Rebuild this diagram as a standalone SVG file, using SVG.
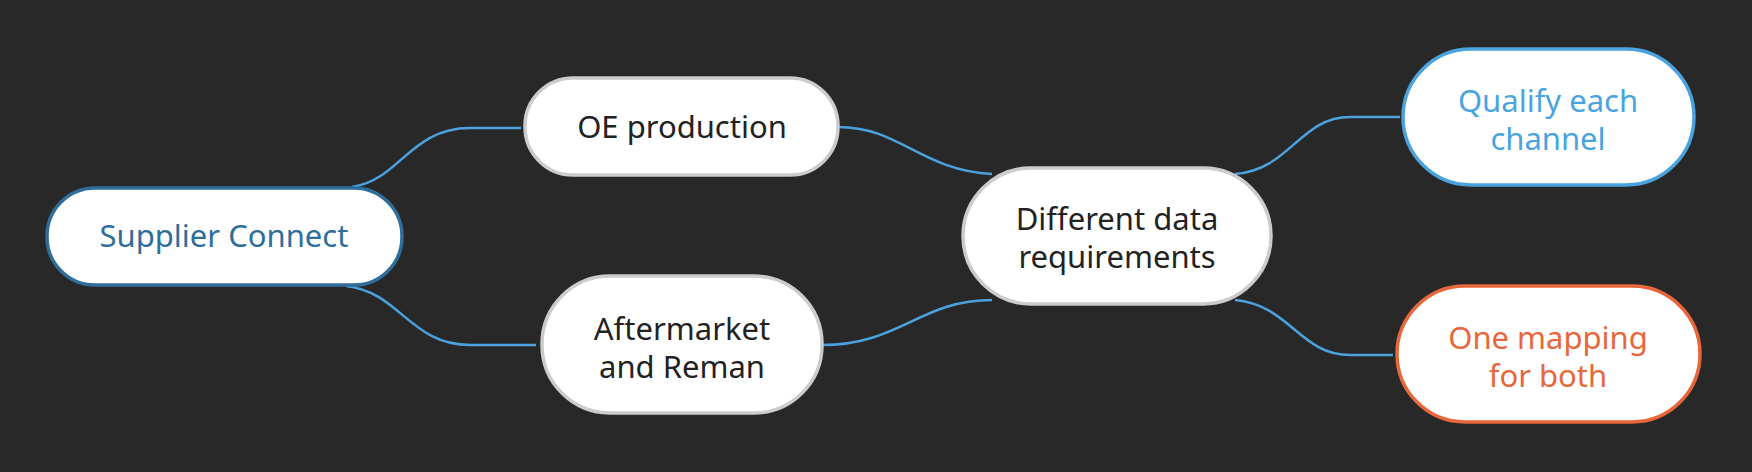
<svg xmlns="http://www.w3.org/2000/svg" width="1752" height="472" viewBox="0 0 1752 472">
<style>
.n{fill:#ffffff;stroke-width:3.5}
.g{stroke:#cccccc}
.t{font-family:"Noto Sans","Liberation Sans",sans-serif;font-size:31px;text-anchor:middle;fill:#222222}
.c{fill:none;stroke:#4aa3df;stroke-width:2.5}
</style>
<rect width="1752" height="472" fill="#282828"/>
<g id="connectors">
<path class="c" d="M352,187 C400,180 410,128 470,128 L521,128"/>
<path class="c" d="M346,286 C400,292 410,345 470,345 L536,345"/>
<path class="c" d="M838,127 C900,127 920,170 992,174"/>
<path class="c" d="M822,345 C900,345 920,300 992,300"/>
<path class="c" d="M1235,174 C1290,170 1300,117 1350,117 L1400,117"/>
<path class="c" d="M1235,300 C1290,305 1300,355 1350,355 L1393,355"/>
</g>
<g id="supplier"><rect class="n" x="47" y="188" width="355" height="97" rx="48" stroke="#2f6e9a"/><text class="t" x="224" y="247" fill="#2f6e9a" style="fill:#2f6e9a">Supplier Connect</text></g>
<g id="oe"><rect class="n g" x="525" y="78" width="313" height="97" rx="48"/><text class="t" x="682" y="138">OE production</text></g>
<g id="aftermarket"><rect class="n g" x="542" y="276" width="280" height="137" rx="68"/><text class="t" x="682" y="340">Aftermarket</text><text class="t" x="682" y="378">and Reman</text></g>
<g id="different"><rect class="n g" x="963" y="168" width="308" height="136" rx="68"/><text class="t" x="1117" y="230">Different data</text><text class="t" x="1117" y="268">requirements</text></g>
<g id="qualify"><rect class="n" x="1403" y="49" width="291" height="136" rx="68" stroke="#4aa3df"/><text class="t" x="1548" y="112" style="fill:#4aa3df">Qualify each</text><text class="t" x="1548" y="150" style="fill:#4aa3df">channel</text></g>
<g id="onemapping"><rect class="n" x="1397" y="286" width="303" height="136" rx="68" stroke="#e8673a"/><text class="t" x="1548" y="349" style="fill:#e8673a">One mapping</text><text class="t" x="1548" y="387" style="fill:#e8673a">for both</text></g>
</svg>
